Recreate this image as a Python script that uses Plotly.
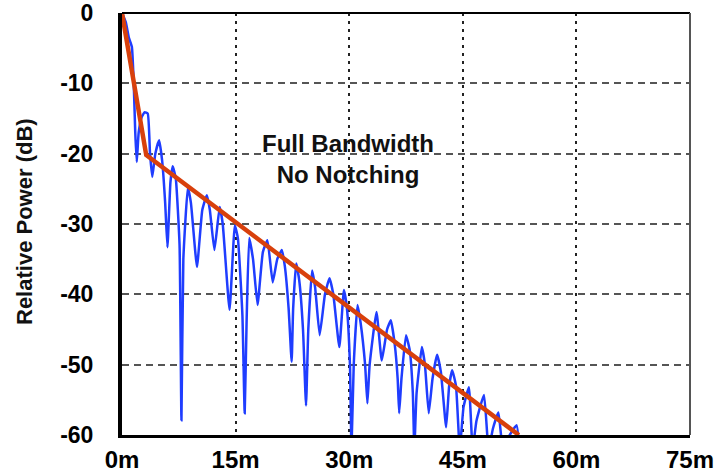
import plotly.graph_objects as go

# Blue measured response (distance in m, relative power in dB)
blue_dist = [0, 0.5, 0.9, 1.3, 1.55, 1.75, 1.95, 2.2, 2.6, 3.0, 3.4, 3.7, 4.0, 4.4, 4.9, 5.3, 5.7, 6.0,
             6.4, 6.7, 7.1, 7.6, 7.85, 8.1, 8.7, 9.1, 9.9, 10.6, 11.2, 11.6, 12.2, 12.9, 13.3, 14.2,
             14.9, 15.3, 15.9, 16.2, 16.45, 16.8, 17.3, 17.9, 18.6, 19.2, 19.9, 20.5, 21.1, 21.5,
             22.0, 22.4, 22.6, 23.0, 23.4, 23.9, 24.3, 24.6, 25.1, 25.5, 26.1, 26.8, 27.4, 27.9,
             28.7, 29.3, 29.7, 30.1, 30.3, 30.6, 31.1, 31.5, 32.1, 32.4, 32.7, 33.6, 34.3, 35.0,
             35.5, 36.0, 36.4, 36.6, 36.9, 37.5, 38.0, 38.4, 38.6, 38.9, 39.6, 40.0, 40.5, 41.0,
             41.6, 42.1, 42.8, 43.2, 43.6, 44.1, 44.6, 45.1, 45.8, 46.3, 46.8, 47.8, 48.4, 49.0,
             49.7, 50.3, 51.2, 52.1, 52.5]
blue_db = [0, -1.3, -3.5, -4.8, -10, -17, -21.2, -17, -14.8, -14.1, -14.3, -20, -23.3, -20, -18.1, -21, -27, -33.3,
           -24, -21.8, -23.5, -33, -57.9, -35, -24.8, -27, -36.1, -28, -25.9, -28, -33.7, -27.6, -30, -42.2,
           -30.2, -32, -43, -56.9, -44, -32, -35, -41.5, -34, -32.3, -38.3, -35, -33.7, -36,
           -42, -49.6, -42, -35.6, -38, -45, -55.8, -45, -36.6, -39, -45.8, -40, -37.7, -40,
           -47.5, -39.4, -42, -50, -62, -50, -41.5, -44, -50, -55.5, -50, -42.5, -49.4, -45,
           -43.7, -47, -52, -56.9, -52, -45.8, -48, -54, -62, -54, -47.5, -50, -56.9, -52,
           -48.6, -51, -58.9, -53, -50.8, -53, -62, -56, -53.2, -62, -58, -54.3, -62, -59,
           -56.8, -62, -60, -58.6, -62]

# Red fitted trend line
red_dist = [0, 3.2, 52.4]
red_db = [0, -20.2, -60]

x_ticks = [0, 15, 30, 45, 60, 75]
x_labels = ["0m", "15m", "30m", "45m", "60m", "75m"]
y_ticks = [0, -10, -20, -30, -40, -50, -60]
y_labels = ["0", "-10", "-20", "-30", "-40", "-50", "-60"]

FONT = "Liberation Sans, Arial, sans-serif"

fig = go.Figure()
fig.add_trace(go.Scatter(x=blue_dist, y=blue_db, mode="lines",
                         line=dict(color="#1f3dff", width=2.5, shape="spline", smoothing=0.4),
                         showlegend=False))
fig.add_trace(go.Scatter(x=red_dist, y=red_db, mode="lines",
                         line=dict(color="#d8400c", width=4.5), showlegend=False))

fig.update_layout(
    width=726, height=474,
    margin=dict(l=122, r=36, t=13, b=39),
    paper_bgcolor="white", plot_bgcolor="white",
    font=dict(family=FONT, color="black"),
    xaxis=dict(range=[0, 75], tickvals=x_ticks, ticktext=x_labels, automargin=False,
               showgrid=True, gridcolor="#222", gridwidth=2, griddash="3px,5px",
               showline=True, linecolor="black", linewidth=3,
               zeroline=False, ticks="", ticklabelstandoff=1,
               tickfont=dict(family=FONT, size=24, color="black", weight="bold")),
    yaxis=dict(range=[-60, 0], tickvals=y_ticks, ticktext=y_labels, automargin=False,
               showgrid=True, gridcolor="#555", gridwidth=2, griddash="7px,5px",
               showline=True, linecolor="black", linewidth=4,
               zeroline=False, ticks="", ticklabelstandoff=20,
               tickfont=dict(family=FONT, size=23, color="black", weight="bold")),
    shapes=[
        dict(type="line", xref="paper", yref="paper", x0=0, x1=1, y0=1, y1=1,
             line=dict(color="black", width=2)),
        dict(type="line", xref="paper", yref="paper", x0=1, x1=1, y0=0, y1=1,
             line=dict(color="#555", width=2)),
    ],
    annotations=[
        dict(text="Full Bandwidth<br>No Notching", x=29.9, y=-20.7, xref="x", yref="y",
             xanchor="center", yanchor="middle",
             showarrow=False, align="center",
             font=dict(family=FONT, size=24, color="#111", weight="bold")),
        dict(text="Relative Power (dB)", textangle=-90, xref="paper", yref="paper",
             x=(25 - 122) / 568, y=(435 - 222) / 422, xanchor="center", yanchor="middle",
             showarrow=False,
             font=dict(family=FONT, size=22, color="#111", weight="bold")),
    ],
)

fig.write_html("out.html", config={"displayModeBar": False},
               post_script="document.body.style.margin='0';document.body.style.overflow='hidden';")
